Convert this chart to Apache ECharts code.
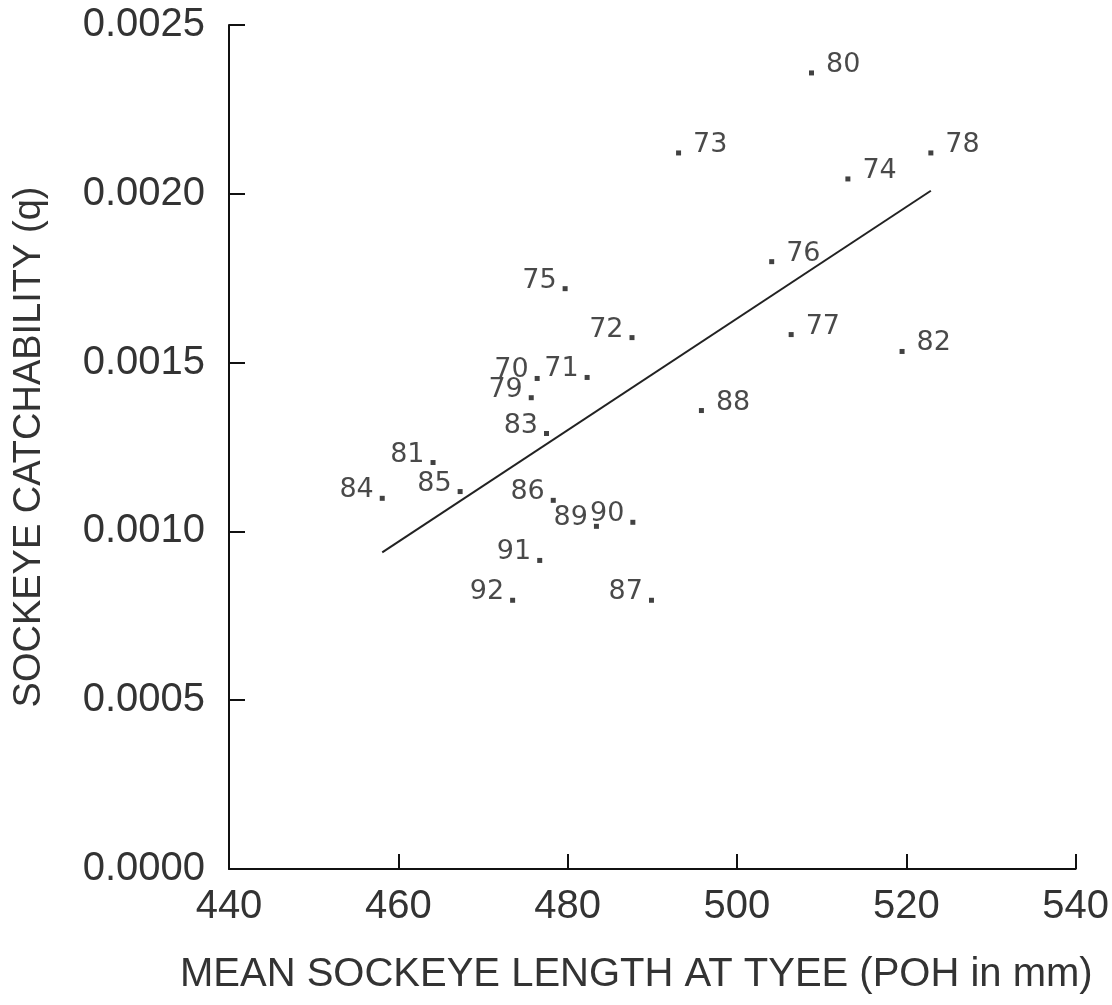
<!DOCTYPE html>
<html>
<head>
<meta charset="utf-8">
<script src="https://cdn.jsdelivr.net/npm/echarts@6/dist/echarts.min.js"></script>
<style>
html,body{margin:0;padding:0;background:#fff;}
#chart{width:1112px;height:1005px;}
</style>
</head>
<body>
<div id="chart"></div>
<script>
// Data
const years = ['80','73','78','74','76','75','72','77','82','70','71','79','83','88','81','84','85','86','89','90','91','92','87'];
const lengths = [508.8,493.1,522.9,513.1,504.1,479.7,487.6,506.4,519.5,476.4,482.3,475.7,477.5,495.8,464.1,458.1,467.3,478.3,483.4,487.7,476.7,473.5,489.9];
const catchability = [0.002358,0.002121,0.002121,0.002044,0.001799,0.001719,0.001574,0.001583,0.001533,0.001453,0.001456,0.001396,0.001290,0.001358,0.001204,0.001098,0.001118,0.001092,0.001015,0.001027,0.000914,0.000796,0.000796];
const fitLineX = [458.1, 522.9];
const fitLineY = [0.000938, 0.002009];
const xTicks = [440,460,480,500,520,540];
const yTicks = [0,0.0005,0.0010,0.0015,0.0020,0.0025];

// label side configuration (presentation)
const rightLabeled = new Set(['80','73','78','74','76','77','82','88']);

const pts = years.map((y,i)=>{
  const right = rightLabeled.has(y);
  return {
    value:[lengths[i], catchability[i]],
    name:y,
    label:{
      position: right ? 'right' : 'left',
      distance: right ? 12 : 6,
      offset:[0,-8]
    }
  };
});

const chart = echarts.init(document.getElementById('chart'));
chart.setOption({
  backgroundColor:'#fff',
  animation:false,
  grid:{left:229,top:25,right:36,bottom:136,containLabel:false},
  xAxis:{
    type:'value',min:440,max:540,interval:20,
    axisLine:{show:true,lineStyle:{color:'#111',width:2}},
    axisTick:{show:true,inside:true,length:15,lineStyle:{color:'#111',width:2}},
    splitLine:{show:false},
    axisLabel:{fontFamily:'Liberation Sans',fontSize:40,color:'#333',margin:18,
      formatter:v=>xTicks.includes(v)?String(v):''},
    name:'MEAN SOCKEYE LENGTH AT TYEE (POH in mm)',
    nameLocation:'middle',nameGap:86,
    nameTextStyle:{fontFamily:'Liberation Sans',fontSize:40,color:'#333',padding:[0,32,0,0]}
  },
  yAxis:{
    type:'value',min:0,max:0.0025,interval:0.0005,
    axisLine:{show:true,lineStyle:{color:'#111',width:2}},
    axisTick:{show:true,inside:true,length:16,lineStyle:{color:'#111',width:2}},
    splitLine:{show:false},
    axisLabel:{fontFamily:'Liberation Sans',fontSize:40,color:'#333',margin:24,
      formatter:v=>{const t=yTicks.find(k=>Math.abs(k-v)<1e-9);return t===undefined?'':t.toFixed(4);}},
    name:'SOCKEYE CATCHABILITY (q)',
    nameLocation:'middle',nameGap:180,nameRotate:90,
    nameTextStyle:{fontFamily:'Liberation Sans',fontSize:38,color:'#333'}
  },
  series:[
    {
      type:'line',
      data:fitLineX.map((x,i)=>[x,fitLineY[i]]),
      symbol:'none',
      lineStyle:{color:'#222',width:2},
      z:1
    },
    {
      type:'scatter',
      data:pts,
      symbol:'rect',
      symbolSize:5,
      itemStyle:{color:'#111'},
      label:{show:true,formatter:p=>p.name,fontFamily:'DejaVu Sans',fontSize:27,color:'#1c1c1c'},
      z:2
    }
  ]
});
</script>
</body>
</html>
